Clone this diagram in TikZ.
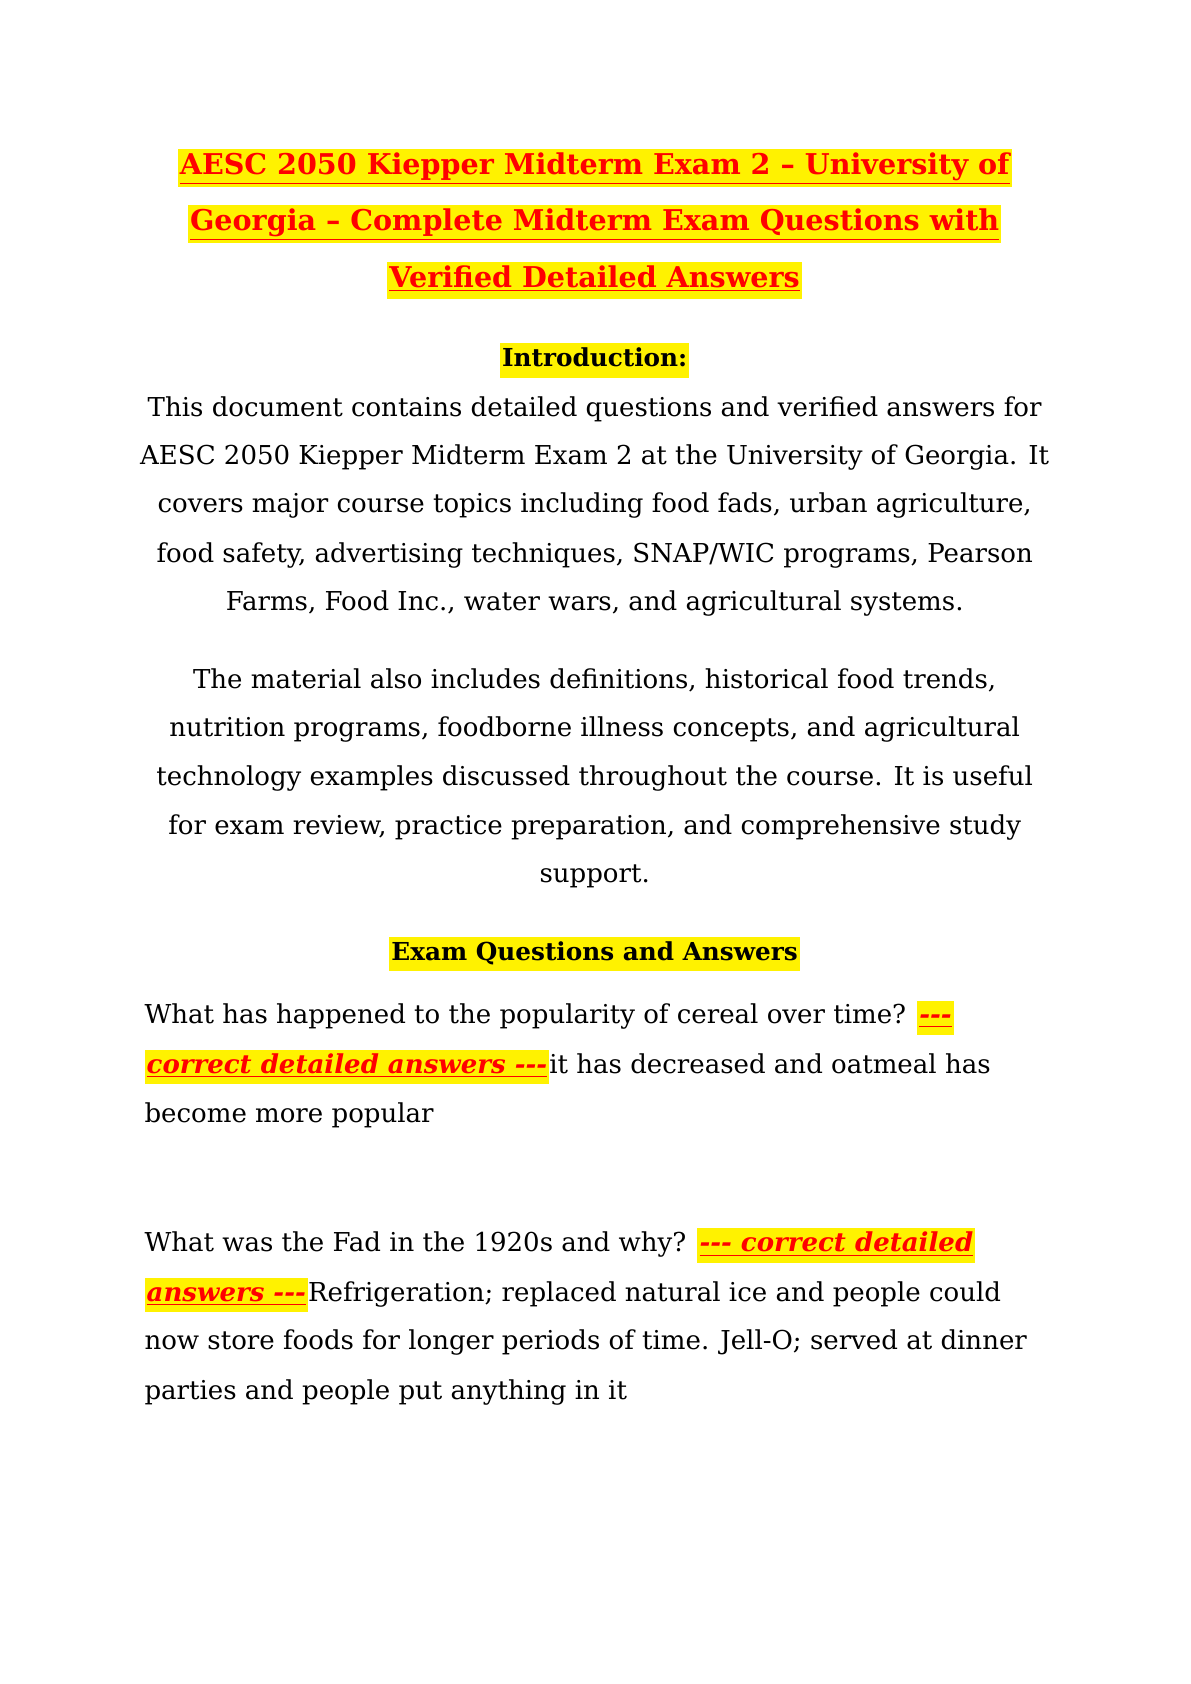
\documentclass[tikz,border=0pt]{standalone}
\usepackage{fontspec}
\setmainfont{DejaVu Serif}
\newcommand{\hl}[1]{{\setlength{\fboxsep}{1pt}\colorbox{yellow}{\strut #1}}}
\newcommand{\ans}[1]{\hl{\color{red}\bfseries\itshape\underline{#1}}}
\newcommand{\dsh}{-{}-{}-}
\begin{document}
\begin{tikzpicture}[x=0.5pt,y=-0.5pt]
	\tikzset{title/.style={anchor=base,inner sep=0pt,font=\fontsize{13.3}{15}\selectfont\bfseries}}
	\tikzset{head/.style={anchor=base,inner sep=0pt,font=\fontsize{11.5}{14}\selectfont\bfseries}}
	\tikzset{body/.style={anchor=base,inner sep=0pt,font=\fontsize{12.1}{14}\selectfont}}
	\tikzset{qline/.style={body,anchor=base west}}

	\useasboundingbox (0,0) rectangle (1107,1566);

	% title
	\node[title] (t1) at (553,162) {\hl{\color{red}\underline{AESC 2050 Kiepper Midterm Exam 2 – University of}}};
	\node[title] (t2) at (553,214) {\hl{\color{red}\underline{Georgia – Complete Midterm Exam Questions with}}};
	\node[title] (t3) at (553,267) {\hl{\color{red}\underline{Verified Detailed Answers}}};

	% introduction
	\node[head] (intro) at (553,341) {\hl{Introduction:}};
	\node[body] (i1) at (553,387) {This document contains detailed questions and verified answers for};
	\node[body] (i2) at (553,432) {AESC 2050 Kiepper Midterm Exam 2 at the University of Georgia. It};
	\node[body] (i3) at (553,477) {covers major course topics including food fads, urban agriculture,};
	\node[body] (i4) at (553,523) {food safety, advertising techniques, SNAP/WIC programs, Pearson};
	\node[body] (i5) at (553,568) {Farms, Food Inc., water wars, and agricultural systems.};

	\node[body] (m1) at (553,640) {The material also includes definitions, historical food trends,};
	\node[body] (m2) at (553,685) {nutrition programs, foodborne illness concepts, and agricultural};
	\node[body] (m3) at (553,730) {technology examples discussed throughout the course. It is useful};
	\node[body] (m4) at (553,776) {for exam review, practice preparation, and comprehensive study};
	\node[body] (m5) at (553,821) {support.};

	% questions
	\node[head] (exam) at (553,893) {\hl{Exam Questions and Answers}};

	\node[qline] (q1a) at (134,952) {What has happened to the popularity of cereal over time? \ans{\dsh}};
	\node[qline] (q1b) at (134,998) {\ans{correct detailed answers \dsh}it has decreased and oatmeal has};
	\node[qline] (q1c) at (134,1044) {become more popular};

	\node[qline] (q2a) at (134,1164) {What was the Fad in the 1920s and why? \ans{\dsh{} correct detailed}};
	\node[qline] (q2b) at (134,1210) {\ans{answers \dsh}Refrigeration; replaced natural ice and people could};
	\node[qline] (q2c) at (134,1255) {now store foods for longer periods of time. Jell-O; served at dinner};
	\node[qline] (q2d) at (134,1301) {parties and people put anything in it};
\end{tikzpicture}
\end{document}
